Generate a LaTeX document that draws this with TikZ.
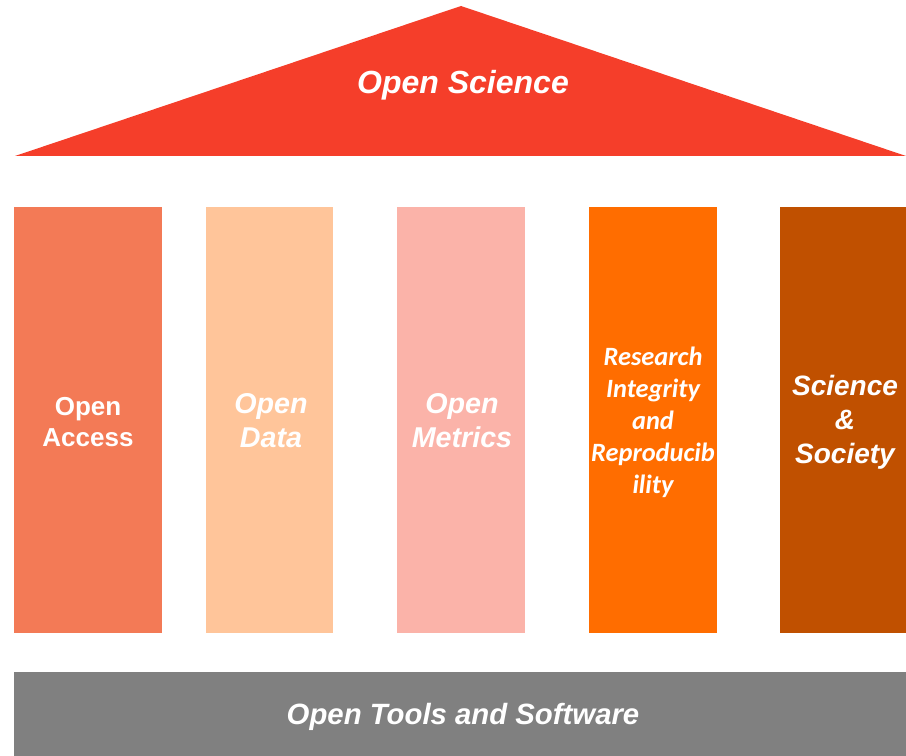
\documentclass[tikz,border=0pt]{standalone}
\usepackage{fontspec}
\setmainfont{Liberation Sans}
\newfontfamily\calib{Carlito}
\definecolor{roof}{HTML}{F53E2A}
\definecolor{pA}{HTML}{F37A56}
\definecolor{pD}{HTML}{FFC59A}
\definecolor{pM}{HTML}{FBB3A9}
\definecolor{pR}{HTML}{FF6D00}
\definecolor{pS}{HTML}{C05000}
\definecolor{base}{HTML}{808080}
\tikzset{
  pillar/.style={inner sep=0pt, minimum height=319.5pt},
  lbl/.style={text=white, align=center, inner sep=0pt},
}
\begin{document}
\begin{tikzpicture}[x=0.75pt,y=-0.75pt]
\useasboundingbox (0,0) rectangle (906,756);
% roof
\coordinate (apex) at (461,6);
\coordinate (bl) at (15,156);
\coordinate (br) at (906,156);
\fill[roof] (apex) -- (br) -- (bl) -- cycle;
\node[lbl, font=\bfseries\itshape\fontsize{24}{28}\selectfont] (os) at (463,85) {Open Science};
% pillars
\node[pillar, fill=pA, minimum width=111pt] (oa) at (88,420) {};
\node[pillar, fill=pD, minimum width=95.25pt] (od) at (269.5,420) {};
\node[pillar, fill=pM, minimum width=96pt] (om) at (461,420) {};
\node[pillar, fill=pR, minimum width=96pt] (ri) at (653,420) {};
\node[pillar, fill=pS, minimum width=94.5pt] (ss) at (843,420) {};
\node[lbl, font=\bfseries\fontsize{19.5}{23.5}\selectfont] (oat) at (88,422) {Open\\Access};
\node[lbl, font=\bfseries\itshape\fontsize{21.5}{25.5}\selectfont] (odt) at (271,421) {Open\\Data};
\node[lbl, font=\bfseries\itshape\fontsize{21.5}{25.5}\selectfont] (omt) at (462,421) {Open\\Metrics};
\node[lbl, font=\calib\bfseries\itshape\fontsize{19.8}{24}\selectfont] (rit) at (653,422) {Research\\Integrity\\and\\Reproducib\\ility};
\node[lbl, font=\bfseries\itshape\fontsize{21}{25.5}\selectfont] (sst) at (845,422) {Science\\\&\\Society};
% base
\node[inner sep=0pt, fill=base, minimum width=669pt, minimum height=63pt] (ot) at (460,714) {};
\node[lbl, font=\bfseries\itshape\fontsize{22}{26}\selectfont] (ott) at (463,717) {Open Tools and Software};
\end{tikzpicture}
\end{document}
